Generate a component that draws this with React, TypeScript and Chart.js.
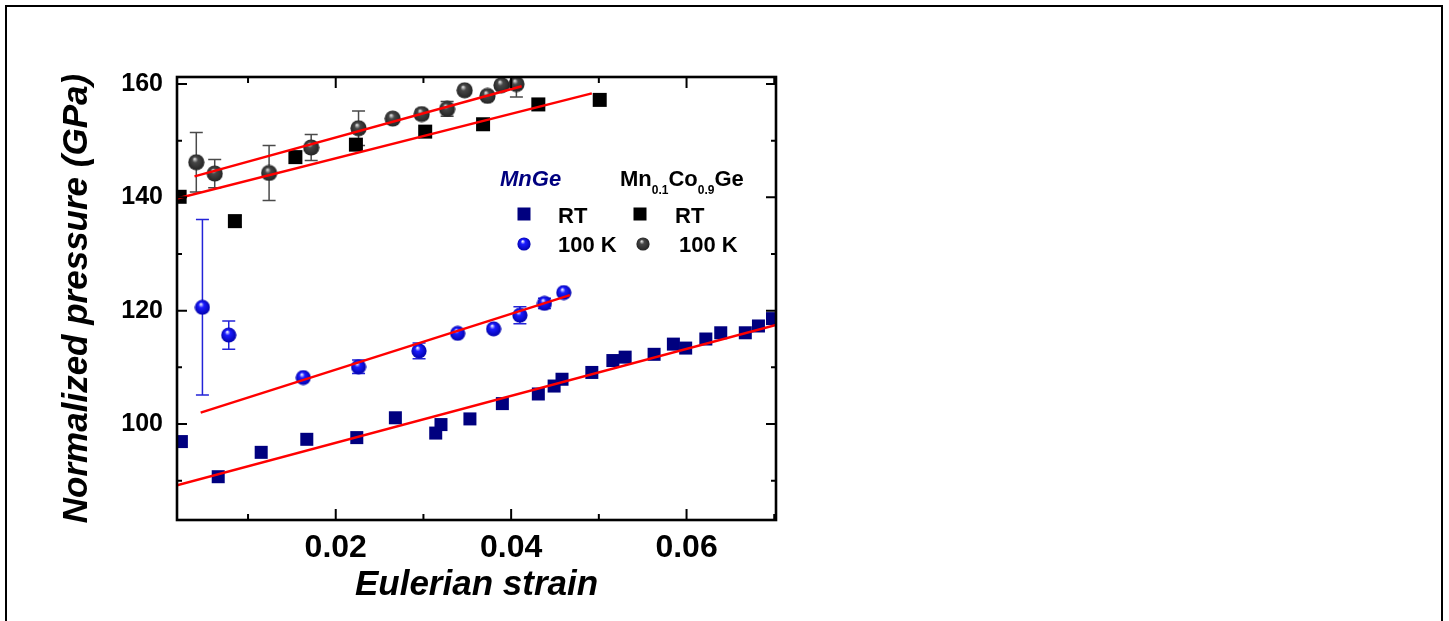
import React, { useEffect, useRef } from 'react';
import { Chart, registerables } from 'chart.js';

Chart.register(...registerables);

// ---------- Data ----------
const mnGeRtX = [0.0024, 0.0066, 0.0115, 0.0167, 0.0224, 0.0268, 0.0314, 0.0320, 0.0353, 0.0390, 0.0431, 0.0449, 0.0458, 0.0492, 0.0516, 0.0530, 0.0563, 0.0585, 0.0599, 0.0622, 0.0639, 0.0667, 0.0682, 0.0698];
const mnGeRtY = [96.9, 90.7, 95.0, 97.3, 97.6, 101.1, 98.4, 99.9, 100.9, 103.6, 105.3, 106.7, 107.9, 109.1, 111.2, 111.8, 112.3, 114.1, 113.4, 115.0, 116.1, 116.1, 117.3, 118.6];

const mnGe100X = [0.0048, 0.0078, 0.0163, 0.0226, 0.0295, 0.0339, 0.0380, 0.0410, 0.0438, 0.0460];
const mnGe100Y = [120.6, 115.7, 108.2, 110.1, 112.9, 116.0, 116.8, 119.2, 121.3, 123.2];
const mnGe100Err = [15.5, 2.5, 0, 1.2, 1.4, 0, 0, 1.5, 0.9, 0];

const coRtX = [0.0022, 0.0085, 0.0154, 0.0223, 0.0302, 0.0368, 0.0431, 0.0501];
const coRtY = [140.1, 135.8, 147.1, 149.3, 151.6, 152.9, 156.4, 157.2];
const coRtErr = [0, 1.0, 0, 0, 0, 0, 0, 0];

const co100X = [0.0041, 0.0062, 0.0124, 0.0172, 0.0226, 0.0265, 0.0298, 0.0327, 0.0347, 0.0373, 0.0389, 0.0406];
const co100Y = [146.2, 144.2, 144.3, 148.8, 152.2, 153.9, 154.7, 155.6, 158.9, 157.9, 159.8, 160.0];
const co100Err = [5.25, 2.5, 4.85, 2.3, 3.05, 0, 0.8, 1.3, 0, 0, 0.5, 2.3];

const fitMnGeRtX = [0.0019, 0.0702];
const fitMnGeRtY = [89.2, 117.5];
const fitMnGe100X = [0.0046, 0.0467];
const fitMnGe100Y = [102.0, 122.75];
const fitCoRtX = [0.0019, 0.0492];
const fitCoRtY = [139.8, 158.35];
const fitCo100X = [0.0039, 0.0412];
const fitCo100Y = [143.7, 159.6];

const xTickValues = [0.01, 0.02, 0.03, 0.04, 0.05, 0.06, 0.07];
const xTickLabels = ['', '0.02', '', '0.04', '', '0.06', ''];
const yTickValues = [90, 100, 110, 120, 130, 140, 150, 160];
const yTickLabels = ['', '100', '', '120', '', '140', '', '160'];

const xMin = 0.0019;
const xMax = 0.0702;
const yMin = 83.06;
const yMax = 161.24;

const FONT = "'Liberation Sans', Arial, Helvetica, sans-serif";

const zip = (xs: number[], ys: number[]) => xs.map((x, i) => ({ x, y: ys[i] }));

function makeSphere(d: number, light: string, base: string, dark: string) {
  const c = document.createElement('canvas');
  c.width = d;
  c.height = d;
  const g = c.getContext('2d')!;
  const r = d / 2;
  const grad = g.createRadialGradient(r * 0.8, r * 0.6, r * 0.05, r, r, r);
  grad.addColorStop(0, light);
  grad.addColorStop(0.3, base);
  grad.addColorStop(1, dark);
  g.fillStyle = grad;
  g.beginPath();
  g.arc(r, r, r - 0.4, 0, Math.PI * 2);
  g.fill();
  return c;
}

export default function App() {
  const ref = useRef<HTMLCanvasElement | null>(null);

  useEffect(() => {
    document.body.style.margin = '0';
    const canvas = ref.current;
    if (!canvas) return;

    const blueSphere = makeSphere(16, '#eef0ff', '#1c1cff', '#0000a8');
    const graySphere = makeSphere(17, '#dcdcdc', '#474747', '#222222');
    const blueSphereL = makeSphere(14, '#eef0ff', '#1c1cff', '#0000a8');
    const graySphereL = makeSphere(14, '#dcdcdc', '#474747', '#222222');

    const errSeries = [
      { xs: mnGe100X, ys: mnGe100Y, es: mnGe100Err, color: '#2323d8' },
      { xs: coRtX, ys: coRtY, es: coRtErr, color: '#111111' },
      { xs: co100X, ys: co100Y, es: co100Err, color: '#4a4a4a' },
    ];

    const errorBars = {
      id: 'errorBars',
      beforeDatasetsDraw(chart: any) {
        const { ctx, chartArea: a, scales } = chart;
        const xs = scales.x, ys = scales.y;
        ctx.save();
        ctx.beginPath();
        ctx.rect(a.left, a.top, a.right - a.left, a.bottom - a.top);
        ctx.clip();
        ctx.lineWidth = 1.5;
        errSeries.forEach((s) => {
          ctx.strokeStyle = s.color;
          s.xs.forEach((xv, i) => {
            const e = s.es[i];
            if (!e) return;
            const px = xs.getPixelForValue(xv);
            const pt = ys.getPixelForValue(s.ys[i] + e);
            const pb = ys.getPixelForValue(s.ys[i] - e);
            ctx.beginPath();
            ctx.moveTo(px, pt);
            ctx.lineTo(px, pb);
            ctx.moveTo(px - 6.5, pt);
            ctx.lineTo(px + 6.5, pt);
            ctx.moveTo(px - 6.5, pb);
            ctx.lineTo(px + 6.5, pb);
            ctx.stroke();
          });
        });
        ctx.restore();
      },
    };

    const axesBox = {
      id: 'axesBox',
      afterDatasetsDraw(chart: any) {
        const { ctx, chartArea: a, scales } = chart;
        ctx.save();
        ctx.strokeStyle = '#000';
        ctx.lineWidth = 2;
        ctx.beginPath();
        xTickValues.forEach((v, i) => {
          const px = scales.x.getPixelForValue(v);
          const len = xTickLabels[i] ? 11 : 6;
          ctx.moveTo(px, a.bottom);
          ctx.lineTo(px, a.bottom - len);
          ctx.moveTo(px, a.top);
          ctx.lineTo(px, a.top + len);
        });
        yTickValues.forEach((v, i) => {
          const py = scales.y.getPixelForValue(v);
          const len = yTickLabels[i] ? 10 : 5;
          ctx.moveTo(a.left, py);
          ctx.lineTo(a.left + len, py);
          ctx.moveTo(a.right, py);
          ctx.lineTo(a.right - len, py);
        });
        ctx.stroke();
        ctx.lineWidth = 2.6;
        ctx.strokeRect(a.left, a.top, a.right - a.left, a.bottom - a.top);
        ctx.restore();
      },
      afterDraw(chart: any) {
        const { ctx } = chart;
        ctx.save();
        // outer frame
        ctx.strokeStyle = '#000';
        ctx.lineWidth = 2;
        ctx.strokeRect(6, 6, 1436, 700);

        // legend
        ctx.textBaseline = 'alphabetic';
        ctx.textAlign = 'left';
        ctx.fillStyle = '#00007f';
        ctx.font = `italic bold 22px ${FONT}`;
        ctx.fillText('MnGe', 500, 186);

        ctx.fillStyle = '#000';
        let x = 620;
        const parts: [string, number, number][] = [
          ['Mn', 22, 0], ['0.1', 12, 8], ['Co', 22, 0], ['0.9', 12, 8], ['Ge', 22, 0],
        ];
        parts.forEach(([t, sz, dy]) => {
          ctx.font = `bold ${sz}px ${FONT}`;
          ctx.fillText(t, x, 186 + dy);
          x += ctx.measureText(t).width;
        });

        ctx.font = `bold 22px ${FONT}`;
        ctx.fillStyle = '#00007f';
        ctx.fillRect(524 - 6.5, 214 - 6.5, 13, 13);
        ctx.fillStyle = '#000';
        ctx.fillRect(640 - 6.5, 214 - 6.5, 13, 13);
        ctx.fillText('RT', 558, 223);
        ctx.fillText('RT', 675, 223);
        ctx.drawImage(blueSphereL, 524 - 7, 244 - 7);
        ctx.drawImage(graySphereL, 643 - 7, 244 - 7);
        ctx.fillText('100 K', 558, 252);
        ctx.fillText('100 K', 679, 252);
        ctx.restore();
      },
    };

    const lineDs = (xs: number[], ys: number[]) => ({
      type: 'line' as const,
      data: zip(xs, ys),
      borderColor: '#ff0000',
      borderWidth: 2.5,
      pointRadius: 0,
      fill: false,
      tension: 0,
    });

    const chart = new Chart(canvas, {
      type: 'scatter',
      data: {
        datasets: [
          lineDs(fitMnGeRtX, fitMnGeRtY),
          lineDs(fitMnGe100X, fitMnGe100Y),
          lineDs(fitCoRtX, fitCoRtY),
          lineDs(fitCo100X, fitCo100Y),
          {
            data: zip(mnGeRtX, mnGeRtY),
            pointStyle: 'rect',
            pointRadius: 9.2,
            backgroundColor: '#00007f',
            borderWidth: 0,
          },
          {
            data: zip(coRtX, coRtY),
            pointStyle: 'rect',
            pointRadius: 9.9,
            backgroundColor: '#000000',
            borderWidth: 0,
          },
          {
            data: zip(mnGe100X, mnGe100Y),
            pointStyle: blueSphere,
            pointRadius: 8,
          },
          {
            data: zip(co100X, co100Y),
            pointStyle: graySphere,
            pointRadius: 8.5,
          },
        ],
      },
      options: {
        responsive: false,
        animation: false,
        devicePixelRatio: 1,
        events: [],
        layout: { padding: { left: 0, top: 77, right: 673, bottom: 0 } },
        plugins: {
          legend: { display: false },
          tooltip: { enabled: false },
        },
        scales: {
          x: {
            type: 'linear',
            position: 'bottom',
            min: xMin,
            max: xMax,
            grid: { display: false, drawTicks: false },
            border: { display: false },
            afterBuildTicks: (s: any) => {
              s.ticks = xTickValues.map((v) => ({ value: v }));
            },
            afterFit: (s: any) => {
              s.height = 101;
            },
            ticks: {
              autoSkip: false,
              maxRotation: 0,
              padding: 9,
              color: '#000',
              font: { family: FONT, size: 32, weight: 'bold' },
              callback: (_v: any, i: number) => xTickLabels[i],
            },
            title: {
              display: true,
              text: 'Eulerian strain',
              color: '#000',
              font: { family: FONT, size: 35, weight: 'bold', style: 'italic' },
              padding: { top: 0, bottom: 15 },
            },
          },
          y: {
            type: 'linear',
            min: yMin,
            max: yMax,
            grid: { display: false, drawTicks: false },
            border: { display: false },
            afterBuildTicks: (s: any) => {
              s.ticks = yTickValues.map((v) => ({ value: v }));
            },
            afterFit: (s: any) => {
              s.width = 177;
            },
            ticks: {
              autoSkip: false,
              padding: 14,
              color: '#000',
              font: { family: FONT, size: 25, weight: 'bold' },
              callback: (_v: any, i: number) => yTickLabels[i],
            },
            title: {
              display: true,
              text: 'Normalized pressure (GPa)',
              color: '#000',
              font: { family: FONT, size: 35, weight: 'bold', style: 'italic' },
              padding: { top: 56, bottom: 0 },
            },
          },
        },
      },
      plugins: [errorBars, axesBox],
    } as any);

    return () => chart.destroy();
  }, []);

  return (
    <canvas
      ref={ref}
      width={1449}
      height={621}
      style={{ display: 'block', width: 1449, height: 621 }}
    />
  );
}
